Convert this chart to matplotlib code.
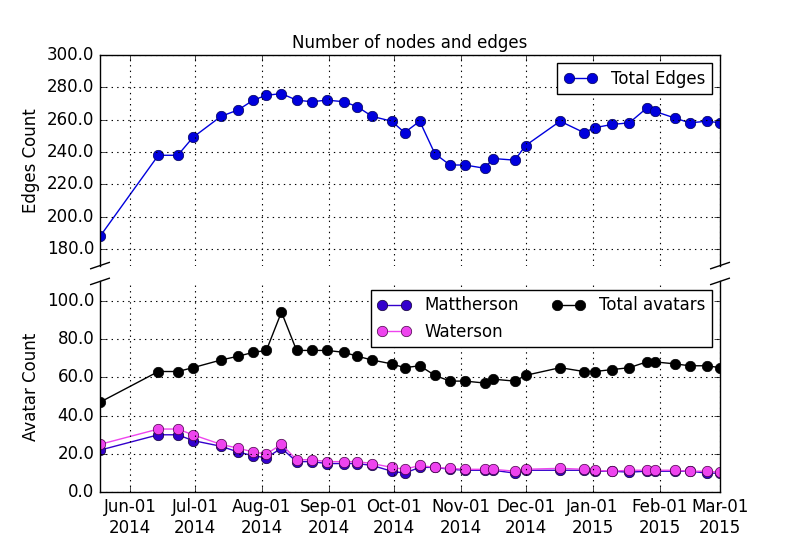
import matplotlib
matplotlib.use("Agg")
import matplotlib.pyplot as plt
import matplotlib.dates as mdates
import pandas as pd
from matplotlib.ticker import FormatStrFormatter

# --- data -------------------------------------------------------------------
dates = pd.to_datetime([
    "2014-05-18", "2014-06-14", "2014-06-23", "2014-06-30", "2014-07-13",
    "2014-07-21", "2014-07-28", "2014-08-03", "2014-08-10", "2014-08-17",
    "2014-08-24", "2014-08-31", "2014-09-08", "2014-09-14", "2014-09-21",
    "2014-09-30", "2014-10-06", "2014-10-13", "2014-10-20", "2014-10-27",
    "2014-11-03", "2014-11-12", "2014-11-16", "2014-11-26", "2014-12-01",
    "2014-12-17", "2014-12-28", "2015-01-02", "2015-01-10", "2015-01-18",
    "2015-01-26", "2015-01-30", "2015-02-08", "2015-02-15", "2015-02-23",
    "2015-03-01",
])
total_edges = [188, 238, 238, 249, 262, 266, 272, 275, 276, 272,
               271, 272, 271, 268, 262, 259, 252, 259, 239, 232,
               232, 230, 236, 235, 244, 259, 252, 255, 257, 258,
               267, 265, 261, 258, 259, 258]
total_avatars = [47, 63, 63, 65, 69, 71, 73, 74, 94, 74,
                 74, 74, 73, 71, 69, 67, 65, 66, 61, 58,
                 58, 57, 59, 58, 61, 65, 63, 63, 64, 65,
                 68, 68, 67, 66, 66, 65]
mattherson = [22, 30, 30, 27, 24, 21, 19, 18, 23, 16,
              16, 15, 15, 15, 14, 11, 10, 13, 13, 12,
              11.5, 11.5, 11.5, 10, 11.5, 11.5, 11.5, 11, 11, 10.5,
              11, 11, 11, 11, 10, 10]
waterson = [25, 33, 33, 30, 25, 23, 21, 20, 25, 17,
            17, 16, 16, 16, 15, 13, 12, 14, 13, 12.5,
            12, 12, 12, 11, 12, 12.5, 12, 11.5, 11, 11.5,
            11.5, 11.5, 11.5, 11, 11, 10.5]

plt.style.use("classic")
fig, (ax1, ax2) = plt.subplots(2, 1, sharex=True, figsize=(8.0, 5.47), dpi=100)
fig.subplots_adjust(left=0.125, right=0.9, top=0.9, bottom=0.1, hspace=0.075)

ms = 7.5
ax1.plot(dates, total_edges, "o-", color="#0000dd", mec="#000055", ms=ms,
         label="Total Edges")
ax2.plot(dates, mattherson, "o-", color="#3300cc", mec="#110033", ms=ms,
         label="Mattherson")
ax2.plot(dates, waterson, "o-", color="#ee44ee", mec="#440044", ms=ms,
         label="Waterson")
ax2.plot(dates, total_avatars, "o-", color="black", ms=ms,
         label="Total avatars")

ax1.set_ylim(170, 300)
ax2.set_ylim(0, 110)
ax1.set_yticks(range(180, 301, 20))
ax2.set_yticks(range(0, 101, 20))
for ax in (ax1, ax2):
    ax.yaxis.set_major_formatter(FormatStrFormatter("%.1f"))
    ax.grid(True, color="black", linestyle=":", linewidth=0.8)
    ax.tick_params(labelsize=12)

ax2.set_xlim(dates[0], dates[-1])
ax2.xaxis.set_major_locator(mdates.MonthLocator())
ax2.xaxis.set_major_formatter(mdates.DateFormatter("%b-%d\n%Y"))

# broken-axis look
ax1.spines["bottom"].set_visible(False)
ax2.spines["top"].set_visible(False)
ax1.xaxis.tick_top()
ax1.tick_params(labeltop=False)
ax2.xaxis.tick_bottom()
d = 0.015
kw = dict(transform=ax1.transAxes, color="k", clip_on=False, lw=1)
ax1.plot((-d, +d), (-d, +d), **kw)
ax1.plot((1 - d, 1 + d), (-d, +d), **kw)
kw.update(transform=ax2.transAxes)
ax2.plot((-d, +d), (1 - d, 1 + d), **kw)
ax2.plot((1 - d, 1 + d), (1 - d, 1 + d), **kw)

ax1.set_title("Number of nodes and edges", fontsize=12)
ax1.set_ylabel("Edges Count", fontsize=12)
ax2.set_ylabel("Avatar Count", fontsize=12)
ax1.legend(loc="upper right", fontsize=12, numpoints=2)
ax2.legend(loc="upper right", ncol=2, fontsize=12, numpoints=2)

fig.savefig("out.png", dpi=100)
